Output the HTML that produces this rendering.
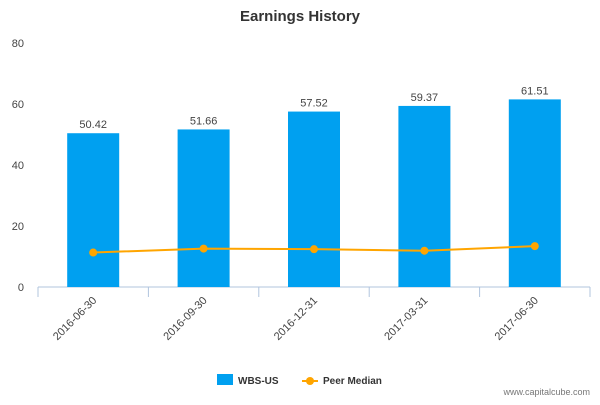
<!DOCTYPE html>
<html><head><meta charset="utf-8"><style>
body{margin:0;background:#fff;font-family:"Liberation Sans","DejaVu Sans",sans-serif}
</style></head><body>
<svg width="600" height="400" xmlns="http://www.w3.org/2000/svg">
<text x="300" y="21" text-anchor="middle" font-size="15" font-weight="bold" fill="#333">Earnings History</text>
<g id="yaxis"></g>
<g id="xaxis"></g>
<g id="bars"></g>
<g id="line"></g>
<g>
<rect x="217" y="374" width="16" height="11" fill="#00a0f0"/>
<text x="238" y="384" font-size="10" font-weight="bold" fill="#333">WBS-US</text>
<line x1="302" y1="381" x2="318" y2="381" stroke="#ffa500" stroke-width="2"/>
<circle cx="310" cy="381" r="4" fill="#ffa500"/>
<text x="323" y="384" font-size="10" font-weight="bold" fill="#333">Peer Median</text>
</g>
<text x="590" y="395" text-anchor="end" font-size="9" fill="#777">www.capitalcube.com</text>
</svg>
<script>
const categories=["2016-06-30","2016-09-30","2016-12-31","2017-03-31","2017-06-30"];
const wbsValues=[50.42,51.66,57.52,59.37,61.51];
const peerValues=[11.3,12.6,12.4,11.9,13.4];
const yTicks=[0,20,40,60,80];
const NS="http://www.w3.org/2000/svg";
const x0=38,x1=590,y0=287,y80=43;
const band=(x1-x0)/categories.length;
const xc=i=>x0+band*(i+0.5);
const y=v=>y0-(v/80)*(y0-y80);
function mk(t,a,p){const e=document.createElementNS(NS,t);for(const k in a)e.setAttribute(k,a[k]);p.appendChild(e);return e;}
const ya=document.getElementById('yaxis');
yTicks.forEach(t=>{const e=mk('text',{x:24,y:y(t)+4,'text-anchor':'end','font-size':11,fill:'#444'},ya);e.textContent=t;

});
const xa=document.getElementById('xaxis');
mk('line',{x1:x0,y1:y0,x2:x1,y2:y0,stroke:'#b0c4de'},xa);
for(let i=0;i<=categories.length;i++)mk('line',{x1:x0+band*i,y1:y0,x2:x0+band*i,y2:y0+10,stroke:'#b0c4de'},xa);
categories.forEach((c,i)=>{const e=mk('text',{x:xc(i)+4,y:y0+14,'text-anchor':'end','font-size':11,fill:'#444',transform:`rotate(-45 ${xc(i)+4} ${y0+14})`},xa);e.textContent=c;

});
const bg=document.getElementById('bars');
wbsValues.forEach((v,i)=>{const r=mk('rect',{x:xc(i)-26,y:y(v),width:52,height:y0-y(v),fill:'#00a0f0'},bg);


const t=mk('text',{x:xc(i),y:y(v)-5,'text-anchor':'middle','font-size':11,fill:'#444'},bg);t.textContent=v.toFixed(2);

});
const lg=document.getElementById('line');
const pl=mk('polyline',{points:peerValues.map((v,i)=>xc(i)+','+y(v)).join(' '),fill:'none',stroke:'#ffa500','stroke-width':2},lg);


peerValues.forEach((v,i)=>{const c=mk('circle',{cx:xc(i),cy:y(v),r:4,fill:'#ffa500'},lg);

});
</script>
</body></html>
